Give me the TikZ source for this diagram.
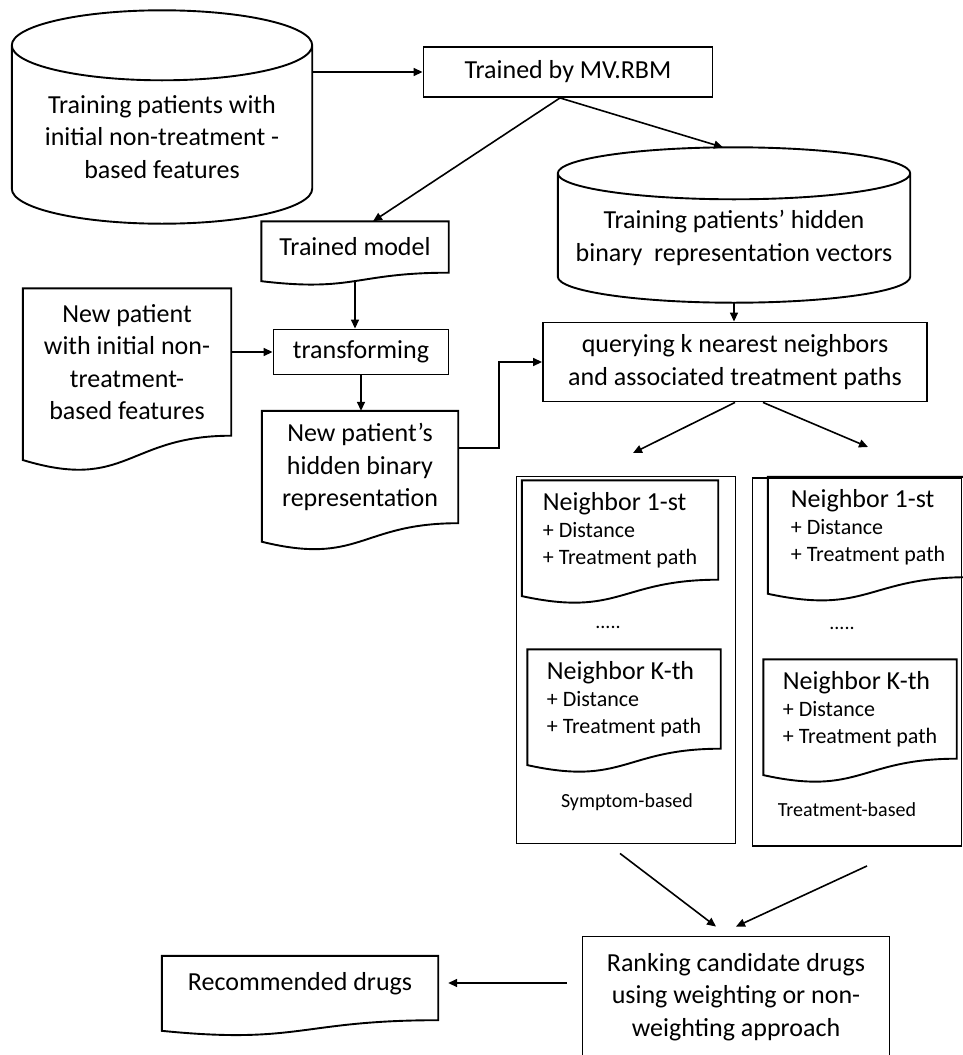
\documentclass[tikz,border=0pt]{standalone}
\usepackage{fontspec}
\setmainfont{Carlito}
\usetikzlibrary{arrows.meta, positioning, calc}

% outline of a document box: flat top, wavy bottom
\newcommand{\docline}[1]{%
  \draw[outline] let \p1=(#1.north west), \p2=(#1.south east), \n1={(\x1+\x2)/2}, \n2={\y1-\y2} in
    (\p1) -- (\x2,\y1) -- (\p2) .. controls (\n1,\y2) and (\n1,{\y2-0.38*\n2}) .. (\x1,{\y2-0.165*\n2}) -- cycle;}

% outline of a database drum, lifted above its text
\newcommand{\drumline}[3]{%
  \draw[outline] let \p1=([yshift=#3]#1.north west), \p2=([yshift=#3]#1.south east), \n1={(\x2-\x1)/2}, \n2={(\x1+\x2)/2} in
    (\p1) -- (\x1,\y2) arc[start angle=180, end angle=360, x radius=\n1, y radius=#2] -- (\x2,\y1)
    (\n2,\y1) ellipse[x radius=\n1, y radius=#2];}

\begin{document}
\begin{tikzpicture}[
    x=1pt, y=-1pt,
    every node/.style={font=\fontsize{26}{32.5}\selectfont},
    box/.style={rectangle, draw, line width=1.9pt, align=center, inner sep=0pt},
    doc/.style={rectangle, align=center, inner sep=0pt},
    drum/.style={rectangle, align=center, inner sep=0pt},
    nbr/.style={doc, align=left, font=\fontsize{22}{27}\selectfont},
    group/.style={rectangle, draw, line width=1.9pt},
    note/.style={font=\fontsize{20}{24}\selectfont},
    outline/.style={line width=1.9pt},
    arrow/.style={-{Triangle[length=9pt, width=8pt]}, line width=1.6pt}
]
\useasboundingbox (0,0) rectangle (963,1055);

% ============ TRAINING ============
\node[drum, minimum width=300pt, minimum height=143pt] (trainset) at (162,137) {Training patients with\\initial non-treatment -\\based features};
\drumline{trainset}{35pt}{20pt}

\node[box, minimum width=289pt, minimum height=50pt] (mvrbm) at (568,72) {Trained by MV.RBM};

\node[doc, minimum width=187pt, minimum height=51pt] (trainedmodel) at (355,247) {Trained model};
\docline{trainedmodel}

\node[drum, minimum width=352pt, minimum height=103pt] (hiddenvec) at (734,238) {Training patients’ hidden\\binary\ \ representation vectors};
\drumline{hiddenvec}{26pt}{13pt}

% ============ NEW PATIENT ============
\node[doc, minimum width=208pt, minimum height=147pt] (newpatient) at (127,362) {New patient\\with initial non-\\treatment-\\based features};
\docline{newpatient}

\node[box, minimum width=175pt, minimum height=45pt] (transform) at (361,352) {transforming};

\node[doc, minimum width=196pt, minimum height=112pt] (newhidden) at (360,467) {New patient’s\\hidden binary\\representation};
\docline{newhidden}

\node[box, minimum width=384pt, minimum height=79pt] (query) at (735,362) {querying k nearest neighbors\\and associated treatment paths};

% ============ NEIGHBOR GROUPS ============
\node[group, minimum width=219pt, minimum height=367pt] (symbox) at (626,660) {};
\node[group, minimum width=209pt, minimum height=368pt] (trtbox) at (857,662) {};

% Symptom-based
\node[nbr, minimum width=196pt, minimum height=99pt] (symfirst) at (620,530) {{\fontsize{26}{30}\selectfont Neighbor 1-st}\\+ Distance\\+ Treatment path};
\docline{symfirst}
\node[note] (symdots) at (608,627) {.....};
\node[nbr, minimum width=193pt, minimum height=99pt] (symkth) at (624,699) {{\fontsize{26}{30}\selectfont Neighbor K-th}\\+ Distance\\+ Treatment path};
\docline{symkth}
\node[note] (symlabel) at (627,802) {Symptom-based};

% Treatment-based
\node[nbr, minimum width=200pt, minimum height=100pt] (trtfirst) at (868,527) {{\fontsize{26}{30}\selectfont Neighbor 1-st}\\+ Distance\\+ Treatment path};
\docline{trtfirst}
\node[note] (trtdots) at (842,628) {.....};
\node[nbr, minimum width=193pt, minimum height=99pt] (trtkth) at (860,709) {{\fontsize{26}{30}\selectfont Neighbor K-th}\\+ Distance\\+ Treatment path};
\docline{trtkth}
\node[note] (trtlabel) at (847,810) {Treatment-based};

% ============ RANKING ============
\node[box, minimum width=307pt, minimum height=121pt] (ranking) at (736,997) {Ranking candidate drugs\\using weighting or non-\\weighting approach};
\node[doc, minimum width=276pt, minimum height=64pt, text depth=14pt] (recommended) at (300,988) {Recommended drugs};
\docline{recommended}

% ============ ARROWS ============
\draw[arrow] (trainset.east |- mvrbm.west) -- (mvrbm.west);
\draw[arrow] ([xshift=-8pt]mvrbm.south) -- ([xshift=18pt]trainedmodel.north);
\draw[arrow] ([xshift=-8pt]mvrbm.south) -- ([shift={(-11pt,39pt)}]hiddenvec.north);
\draw[arrow] ([yshift=-8pt]trainedmodel.south) -- (trainedmodel.south |- transform.north);
\draw[arrow] ([yshift=-12pt]hiddenvec.south) -- (hiddenvec.south |- query.north);
\draw[arrow] (newpatient.east |- transform.west) -- (transform.west);
\draw[arrow] (transform.south) -- (transform.south |- newhidden.north);
\draw[arrow] ([yshift=19pt]newhidden.east) -- ++(41,0) |- (query.west);

\coordinate (symtip) at (633,453);
\coordinate (trttip) at (868,447);
\draw[arrow] (query.south) -- (symtip);
\draw[arrow] ([xshift=28pt]query.south) -- (trttip);

\draw[arrow] ([shift={(-6pt,-9pt)}]symbox.south) -- ([shift={(-20pt,9pt)}]ranking.north);
\draw[arrow] ([shift={(10pt,-19pt)}]trtbox.south) -- ([yshift=9pt]ranking.north);
\draw[arrow] ([shift={(-15pt,14pt)}]ranking.west) -- ([shift={(10pt,5pt)}]recommended.east);

\end{tikzpicture}
\end{document}
